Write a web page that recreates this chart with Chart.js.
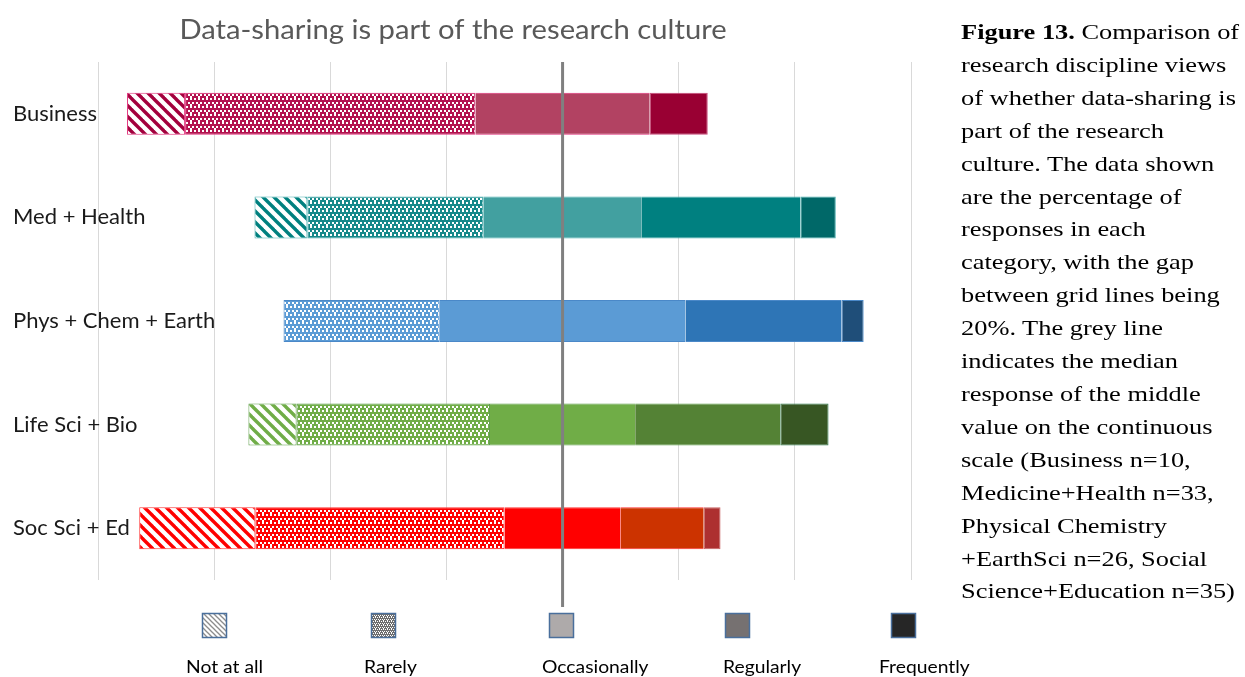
<!DOCTYPE html>
<html>
<head>
<meta charset="utf-8">
<script src="https://cdn.jsdelivr.net/npm/chart.js@4.4.1/dist/chart.umd.min.js"></script>
<style>
html,body{margin:0;padding:0;background:#fff;width:1245px;height:677px;overflow:hidden;}
#wrap{position:absolute;left:0;top:0;width:1245px;height:677px;}
#caption{position:absolute;left:961px;top:16px;font-family:"Liberation Serif","Times New Roman",serif;font-size:22px;line-height:32.9px;color:#000;white-space:nowrap;transform:scaleX(1.2);transform-origin:0 0;}
</style>
</head>
<body>
<div id="wrap"><canvas id="c" width="1245" height="677"></canvas></div>
<div id="caption"><b>Figure 13.</b> Comparison of<br>research discipline views<br>of whether data-sharing is<br>part of the research<br>culture. The data shown<br>are the percentage of<br>responses in each<br>category, with the gap<br>between grid lines being<br>20%. The grey line<br>indicates the median<br>response of the middle<br>value on the continuous<br>scale (Business n=10,<br>Medicine+Health n=33,<br>Physical Chemistry<br>+EarthSci n=26, Social<br>Science+Education n=35)</div>
<script>
// ---- data (percent of responses) ----
const chartTitle = 'Data-sharing is part of the research culture';
const categories = ['Business', 'Med + Health', 'Phys + Chem + Earth', 'Life Sci + Bio', 'Soc Sci + Ed'];
const legendLabels = ['Not at all', 'Rarely', 'Occasionally', 'Regularly', 'Frequently'];
const notAtAll     = [10, 9.1, 0, 8.3, 20];
const rarely       = [50, 30.3, 26.9, 33.3, 42.9];
const occasionally = [30, 27.3, 42.3, 25, 20];
const regularly    = [0, 27.3, 26.9, 25, 14.3];
const frequently   = [10, 6.1, 3.8, 8.3, 2.9];
const axisMin = -80, axisMax = 60, gridStep = 20;
const medianValue = 0;

// ---- styles ----
const hatchCol = ['#A3003D', '#00807F', '#5B9BD5', '#70AD47', '#FF0000'];
const rareCol  = ['#B3124F', '#16898A', '#5B9BD5', '#70AD47', '#FF0000'];
const occCol   = ['#B24262', '#42A0A0', '#5B9BD5', '#70AD47', '#FF0000'];
const regCol   = ['#990033', '#008080', '#2E75B6', '#548235', '#CC3300'];
const freqCol  = ['#990033', '#006868', '#1F4E79', '#375623', '#AD3030'];
const outline  = ['#E0307A', '#4AAFAF', '#4A88C8', '#5E9E4A', '#FF3333'];
const freqOutline = ['#C84A7A', '#4AAFAF', '#4A88C8', '#2E7D50', '#C86060'];

const canvas = document.getElementById('c');
const ctx = canvas.getContext('2d');

function stripePattern(color, p, lw) {
  const t = document.createElement('canvas'); t.width = p; t.height = p;
  const g = t.getContext('2d');
  g.fillStyle = '#fff'; g.fillRect(0, 0, p, p);
  g.strokeStyle = color; g.lineWidth = lw;
  for (const k of [-p, 0, p]) {
    g.beginPath(); g.moveTo(k - 2, -2); g.lineTo(k + p + 2, p + 2); g.stroke();
  }
  return ctx.createPattern(t, 'repeat');
}
// 2px blocks: 1 = colour, 0 = white
const gridMask = [
  '1110',
  '1010',
  '1111',
  '0101'
];
function gridPattern(color, b) {
  const n = gridMask.length, s = n * b;
  const t = document.createElement('canvas'); t.width = s; t.height = s;
  const g = t.getContext('2d');
  g.fillStyle = '#fff'; g.fillRect(0, 0, s, s);
  g.fillStyle = color;
  for (let y = 0; y < n; y++) for (let x = 0; x < n; x++) if (gridMask[y][x] === '1') g.fillRect(x * b, y * b, b, b);
  return ctx.createPattern(t, 'repeat');
}

const hatchFill = hatchCol.map(c => stripePattern(c, 11, 3.4));
const rareFill = rareCol.map(c => gridPattern(c, 2));

const solidBW = {top: 1, bottom: 1, left: 0, right: 0};

const datasets = [
  {label: legendLabels[2], data: occasionally.map(v => -v / 2), backgroundColor: occCol, borderColor: outline, borderWidth: solidBW, borderSkipped: false},
  {label: legendLabels[2], data: occasionally.map(v => v / 2), backgroundColor: occCol, borderColor: outline, borderWidth: solidBW, borderSkipped: false},
  {label: legendLabels[1], data: rarely.map(v => -v), backgroundColor: rareFill, borderColor: outline, borderWidth: 1, borderSkipped: false},
  {label: legendLabels[3], data: regularly, backgroundColor: regCol, borderColor: outline, borderWidth: solidBW, borderSkipped: false},
  {label: legendLabels[0], data: notAtAll.map(v => -v), backgroundColor: hatchFill, borderColor: outline, borderWidth: 1, borderSkipped: false},
  {label: legendLabels[4], data: frequently, backgroundColor: freqCol, borderColor: freqOutline, borderWidth: 1, borderSkipped: false}
];

// legend swatch fills (grey)
const legendFills = [
  stripePattern('#8C8C8C', 5, 1.3),
  gridPattern('#6E6E6E', 1),
  '#AEAAAA',
  '#767171',
  '#262626'
];
const legendIconX = [202, 371, 549, 725, 891];
const legendTextX = [186, 364, 542, 723, 879];

const extras = {
  id: 'extras',
  afterDatasetsDraw(chart) {
    const {ctx, chartArea, scales: {x}} = chart;
    const px = x.getPixelForValue(medianValue);
    ctx.save();
    ctx.strokeStyle = '#808080'; ctx.lineWidth = 3;
    ctx.beginPath(); ctx.moveTo(px, chartArea.top); ctx.lineTo(px, chartArea.bottom + 27); ctx.stroke();
    ctx.restore();
  },
  afterDraw(chart) {
    const c = chart.ctx;
    c.save();
    c.font = '26px Lato';
    c.fillStyle = '#595959';
    c.textAlign = 'center'; c.textBaseline = 'alphabetic';
    c.save(); c.translate(453, 39); c.scale(1.123, 1); c.fillText(chartTitle, 0, 0); c.restore();
    legendLabels.forEach((lab, i) => {
      c.fillStyle = legendFills[i];
      c.fillRect(legendIconX[i], 613, 25, 25);
      c.strokeStyle = '#4A6F9C'; c.lineWidth = 1.5;
      c.strokeRect(legendIconX[i] + 0.5, 613.5, 24, 24);
      c.fillStyle = '#000';
      c.font = '17px Lato';
      c.textAlign = 'left';
      c.save(); c.translate(legendTextX[i], 673); c.scale(1.135, 1); c.fillText(lab, 0, 0); c.restore();
    });
    c.restore();
  }
};

new Chart(ctx, {
  type: 'bar',
  data: {labels: categories, datasets},
  plugins: [extras],
  options: {
    indexAxis: 'y',
    responsive: false,
    animation: false,
    devicePixelRatio: 1,
    layout: {padding: {left: 13, top: 62, right: 334, bottom: 97}},
    plugins: {legend: {display: false}, tooltip: {enabled: false}, title: {display: false}},
    datasets: {bar: {barPercentage: 0.405, categoryPercentage: 1}},
    scales: {
      x: {
        stacked: true, min: axisMin, max: axisMax,
        ticks: {display: false, stepSize: gridStep},
        grid: {color: '#D9D9D9', lineWidth: 1, drawTicks: false},
        border: {display: false},
        afterFit(s) { s.height = 0; }
      },
      y: {
        stacked: true,
        grid: {display: false},
        border: {display: false},
        ticks: {mirror: true, crossAlign: 'near', color: '#1a1a1a', font: {family: 'Lato', size: 22}, padding: -85},
        afterFit(s) { s.width = 85; }
      }
    }
  }
});
</script>
</body>
</html>
